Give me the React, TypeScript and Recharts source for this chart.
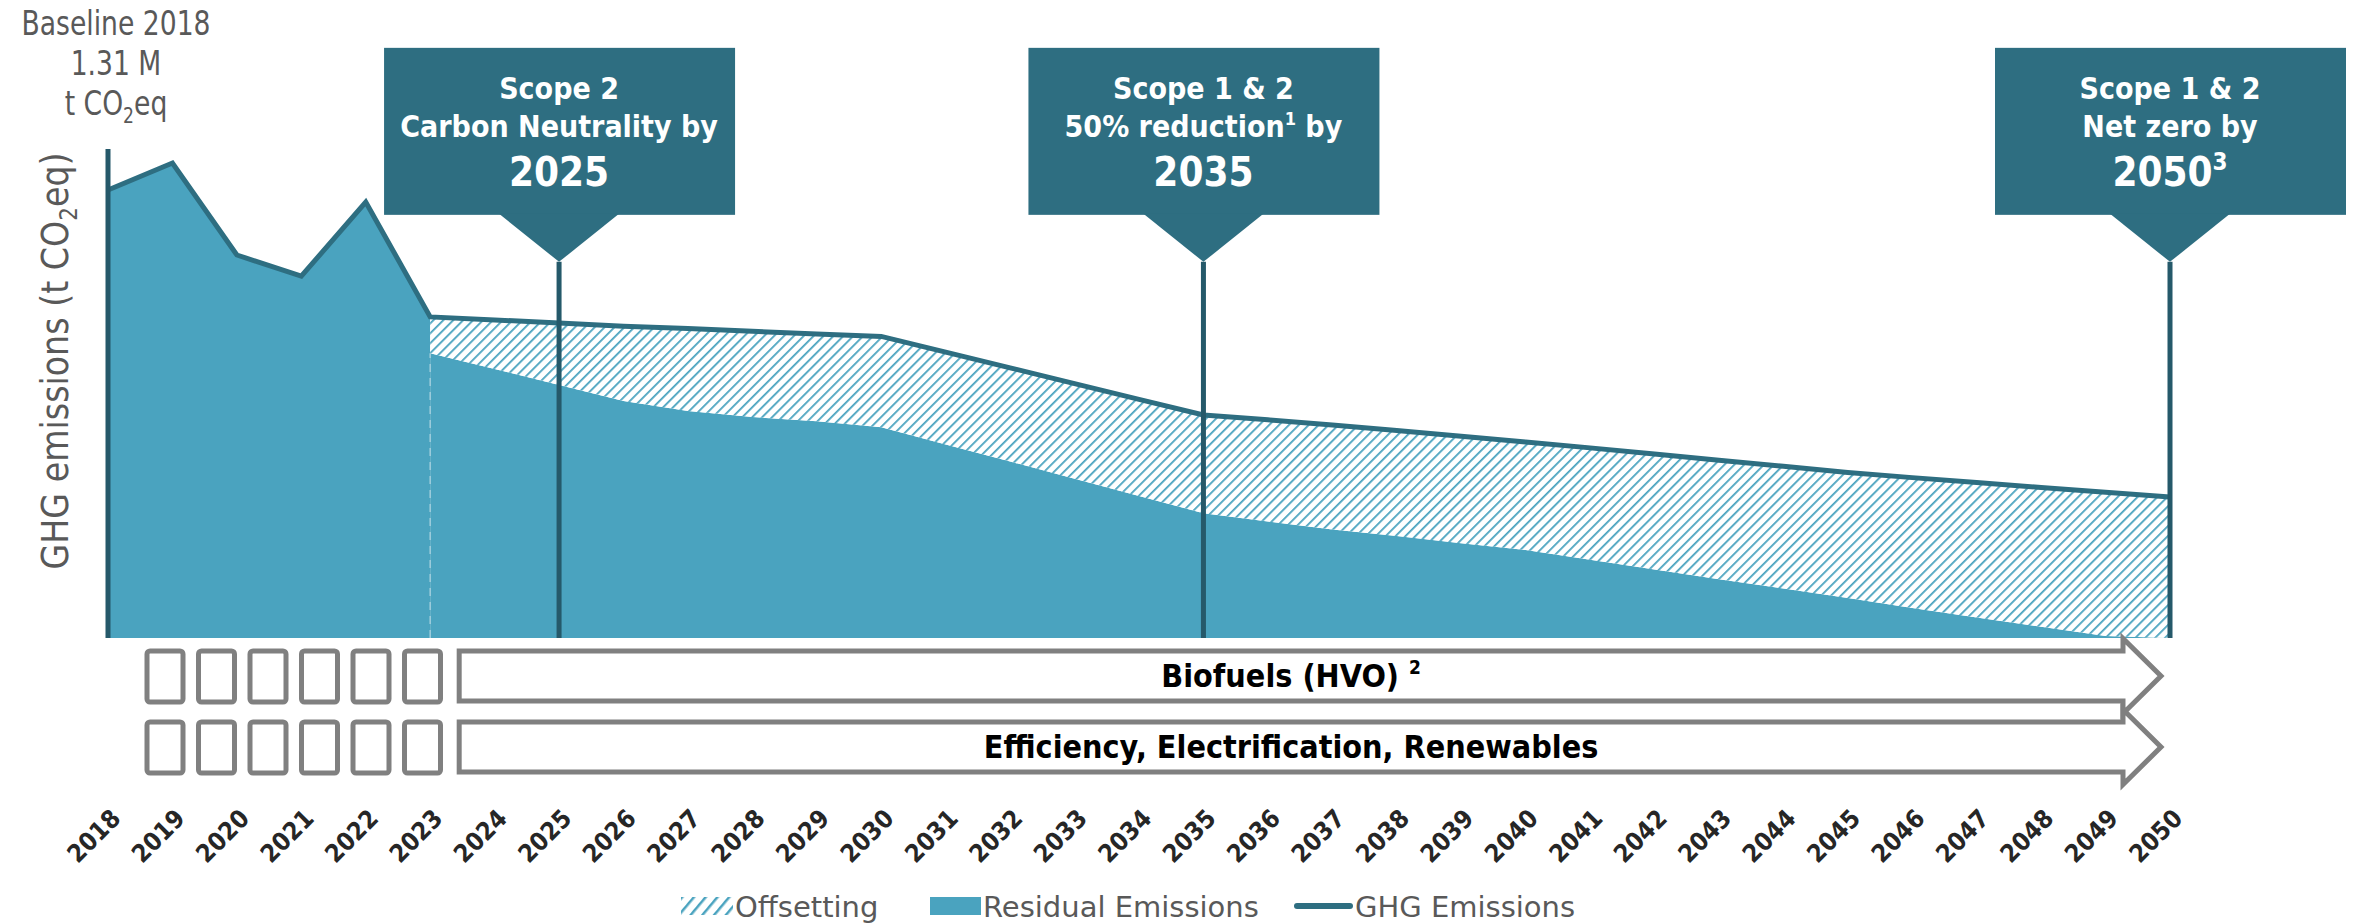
import React from 'react';
import { ComposedChart, Area, Line, XAxis, YAxis, ReferenceLine, ReferenceDot, ReferenceArea } from 'recharts';

const years = [
  2018, 2019, 2020, 2021, 2022, 2023, 2024, 2025, 2026, 2027, 2028,
  2029, 2030, 2031, 2032, 2033, 2034, 2035, 2036, 2037, 2038, 2039,
  2040, 2041, 2042, 2043, 2044, 2045, 2046, 2047, 2048, 2049, 2050,
];

// million t CO2eq
const ghgEmissions = [
  1.31, 1.389, 1.12, 1.058, 1.275, 0.939, 0.93, 0.921, 0.912, 0.905, 0.897,
  0.889, 0.882, 0.836, 0.79, 0.744, 0.698, 0.652, 0.638, 0.623, 0.607, 0.59,
  0.573, 0.556, 0.538, 0.52, 0.502, 0.484, 0.469, 0.455, 0.44, 0.426, 0.412,
];

const residualEmissions = [
  null, null, null, null, null, 0.833, 0.787, 0.74, 0.693, 0.664, 0.646,
  0.634, 0.616, 0.566, 0.516, 0.466, 0.415, 0.365, 0.341, 0.317, 0.298, 0.277,
  0.257, 0.229, 0.2, 0.172, 0.145, 0.117, 0.088, 0.06, 0.033, 0.006, 0,
];

const milestones = [
  { year: 2025, title: 'Scope 2', goal: 'Carbon Neutrality by', goalNote: '', goalTail: '', target: '2025', targetNote: '' },
  { year: 2035, title: 'Scope 1 & 2', goal: '50% reduction', goalNote: '1', goalTail: ' by', target: '2035', targetNote: '' },
  { year: 2050, title: 'Scope 1 & 2', goal: 'Net zero by', goalNote: '', goalTail: '', target: '2050', targetNote: '3' },
];

const levers = [
  { label: 'Biofuels (HVO) ', note: '2' },
  { label: 'Efficiency, Electrification, Renewables', note: '' },
];

const legendItems = ['Offsetting', 'Residual Emissions', 'GHG Emissions'];

const TEAL = '#2e6e81';
const LIGHT = '#4aa3bf';
const DARK = '#25596a';
const GRAY = '#808080';
const TEXT = '#595959';
const COND = "'DejaVu Sans Condensed', 'DejaVu Sans', sans-serif";
const SANS = "'DejaVu Sans', sans-serif";
const CALLOUT_TIP = 1.1;

const data = years.map((year, i) => ({
  year,
  ghg: ghgEmissions[i],
  history: year <= 2023 ? ghgEmissions[i] : null,
  residual: residualEmissions[i],
  offset: residualEmissions[i] == null ? null : [residualEmissions[i], ghgEmissions[i]],
}));

const YearTick = (props: any) => {
  const { x, y, payload } = props;
  const ax = x + 14;
  const ay = y + 182;
  return (
    <text x={ax} y={ay} transform={`rotate(-45 ${ax} ${ay})`} textAnchor="end"
      fontFamily={COND} fontSize={25} fontWeight="bold" fill="#262626">
      {payload.value}
    </text>
  );
};

const Callout = (props: any) => {
  const { cx, cy, m } = props;
  const bottom = cy - 47;
  const top = bottom - 167;
  const t = { fontFamily: COND, fontWeight: 'bold' as const, fill: '#fff', textAnchor: 'middle' as const };
  return (
    <g>
      <rect x={cx - 175} y={top} width={351} height={167} fill={TEAL} />
      <polygon points={`${cx - 60},${bottom - 1} ${cx + 60},${bottom - 1} ${cx},${cy}`} fill={TEAL} />
      <text x={cx} y={top + 51} fontSize={30} {...t}>{m.title}</text>
      <text x={cx} y={top + 89} fontSize={30} {...t}>
        {m.goal}
        {m.goalNote && <tspan fontSize={18} dy={-12}>{m.goalNote}</tspan>}
        {m.goalTail && <tspan dy={m.goalNote ? 12 : 0}>{m.goalTail}</tspan>}
      </text>
      <text x={cx} y={top + 138} fontSize={40} {...t}>
        {m.target}
        {m.targetNote && <tspan fontSize={24} dy={-16}>{m.targetNote}</tspan>}
      </text>
    </g>
  );
};

const Levers = (props: any) => {
  const { x, y, width, height } = props;
  const base = y + height;
  const px = (yr: number) => x + ((yr - years[0]) / (years[years.length - 1] - years[0])) * width;
  const left = px(2023) + 29;
  const bodyEnd = px(2050) - 47;
  const tip = px(2050) - 9;
  const rows = [base + 38, base + 109];
  return (
    <g>
      {rows.map((cy, r) => (
        <g key={r}>
          {[0, 1, 2, 3, 4, 5].map((k) => (
            <rect key={k} x={px(2018) + 39 + k * 51.5} y={cy - 25} width={36} height={51} rx={3}
              fill="#fff" stroke={GRAY} strokeWidth={5} />
          ))}
          <polygon
            points={`${left},${cy - 25} ${bodyEnd},${cy - 25} ${bodyEnd},${cy - 37.5} ${tip},${cy} ${bodyEnd},${cy + 37.5} ${bodyEnd},${cy + 25} ${left},${cy + 25}`}
            fill="#fff" stroke={GRAY} strokeWidth={5} />
          <text x={(left + bodyEnd) / 2} y={cy + 11} textAnchor="middle" fontFamily={COND}
            fontWeight="bold" fontSize={32} fill="#000">
            {levers[r].label}
            {levers[r].note && <tspan fontSize={19} dy={-13}>{levers[r].note}</tspan>}
          </text>
        </g>
      ))}
    </g>
  );
};

export default function App() {
  return (
    <div style={{ position: 'absolute', left: 0, top: 0, width: 2359, height: 924, background: '#fff' }}>
      <ComposedChart width={2359} height={924} data={data}
        margin={{ top: 149, right: 189, bottom: 256, left: 108 }}>
        <defs>
          <pattern id="hatch" width="7" height="7" patternUnits="userSpaceOnUse" patternTransform="rotate(45)">
            <rect width="7" height="7" fill="#fff" />
            <line x1="0" y1="0" x2="0" y2="7" stroke={LIGHT} strokeWidth="3.6" />
          </pattern>
        </defs>
        <XAxis dataKey="year" type="number" domain={[2018, 2050]} ticks={years} interval={0}
          height={30} axisLine={false} tickLine={false} tickSize={0} tickMargin={0}
          tick={(p: any) => <YearTick {...p} />} />
        <YAxis hide domain={[0, 1.43]} />
        <Area dataKey="history" type="linear" fill={LIGHT} fillOpacity={1} stroke="none" isAnimationActive={false} />
        <Area dataKey="residual" type="linear" fill={LIGHT} fillOpacity={1} stroke="none" isAnimationActive={false} />
        <Area dataKey="offset" type="linear" fill="url(#hatch)" fillOpacity={1} stroke="none" isAnimationActive={false} />
        <ReferenceLine segment={[{ x: 2023, y: 0 }, { x: 2023, y: residualEmissions[5] as number }]}
          stroke="#9fcddc" strokeWidth={1.5} strokeDasharray="8 6" />
        <Line dataKey="ghg" type="linear" stroke={TEAL} strokeWidth={5} dot={false} isAnimationActive={false} />
        <ReferenceLine x={2018} stroke={DARK} strokeWidth={5} />
        {milestones.map((m) => (
          <ReferenceLine key={`l${m.year}`} segment={[{ x: m.year, y: 0 }, { x: m.year, y: CALLOUT_TIP }]}
            stroke={DARK} strokeWidth={5} />
        ))}
        {milestones.map((m) => (
          <ReferenceDot key={`c${m.year}`} x={m.year} y={CALLOUT_TIP} ifOverflow="visible"
            shape={(p: any) => <Callout {...p} m={m} />} />
        ))}
        <ReferenceArea x1={2018} x2={2050} ifOverflow="visible" shape={(p: any) => <Levers {...p} />} />
      </ComposedChart>

      <svg width={2359} height={924} style={{ position: 'absolute', left: 0, top: 0, pointerEvents: 'none' }}>
        <defs>
          <pattern id="hatchLegend" width="9" height="9" patternUnits="userSpaceOnUse" patternTransform="rotate(40)">
            <rect width="9" height="9" fill="#fff" />
            <line x1="0" y1="0" x2="0" y2="9" stroke={LIGHT} strokeWidth="5" />
          </pattern>
        </defs>
        <g transform="translate(116 0) scale(0.87 1)" fontFamily={COND} fontSize={34} fill={TEXT} textAnchor="middle">
          <text x={0} y={35}>Baseline 2018</text>
          <text x={0} y={75}>1.31 M</text>
          <text x={0} y={115}>t CO<tspan fontSize={22} dy={8}>2</tspan><tspan dy={-8}>eq</tspan></text>
        </g>
        <text transform="translate(68 361) rotate(-90)" textAnchor="middle" fontFamily={COND} fontSize={37} fill={TEXT}>
          GHG emissions (t CO<tspan fontSize={24} dy={9}>2</tspan><tspan dy={-9}>eq)</tspan>
        </text>
        <g fontFamily={SANS} fontSize={29} fill={TEXT}>
          <rect x={681} y={897} width={52} height={18} fill="url(#hatchLegend)" />
          <text x={735} y={917}>{legendItems[0]}</text>
          <rect x={930} y={897} width={51} height={18} fill={LIGHT} />
          <text x={983} y={917}>{legendItems[1]}</text>
          <line x1={1297} x2={1350} y1={906} y2={906} stroke={TEAL} strokeWidth={6} strokeLinecap="round" />
          <text x={1355} y={917}>{legendItems[2]}</text>
        </g>
      </svg>
    </div>
  );
}
